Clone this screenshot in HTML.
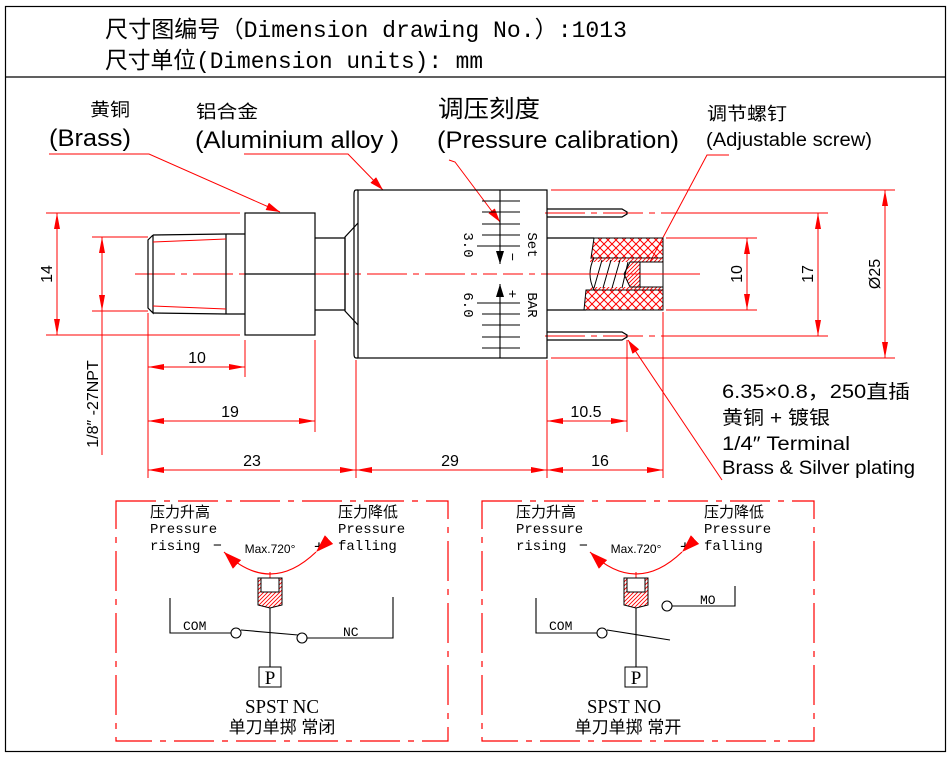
<!DOCTYPE html>
<html><head><meta charset="utf-8"><style>
html,body{margin:0;padding:0;background:#fff;}
svg{display:block;}
.cn{font-family:"Liberation Sans","Noto Sans CJK SC",sans-serif;}
.mono{font-family:"Liberation Mono","Noto Sans CJK SC",monospace;}
.serif{font-family:"Liberation Serif","Noto Serif CJK SC",serif;}
</style></head><body>
<svg width="952" height="758" viewBox="0 0 952 758" xmlns="http://www.w3.org/2000/svg">
<defs>
<pattern id="xh" width="8" height="8" patternUnits="userSpaceOnUse">
<path d="M0 0L8 8M8 0L0 8" stroke="#f00" stroke-width="1"/>
</pattern>
<pattern id="dh" width="4" height="4" patternUnits="userSpaceOnUse">
<path d="M0 4L4 0M-1 1L1 -1M3 5L5 3" stroke="#f00" stroke-width="0.9"/>
</pattern>
<marker id="ar" markerWidth="14" markerHeight="8" refX="14" refY="4" orient="auto" markerUnits="userSpaceOnUse">
<path d="M0 0L14 4L0 8Z" fill="#f00"/>
</marker>
<marker id="ar2" markerWidth="18" markerHeight="12" refX="18" refY="6" orient="auto" markerUnits="userSpaceOnUse">
<path d="M0 0L18 6L0 12Z" fill="#f00"/>
</marker>
<marker id="dm" markerWidth="16" markerHeight="6" refX="16" refY="3" orient="auto-start-reverse" markerUnits="userSpaceOnUse">
<path d="M0 0L16 3L0 6Z" fill="#f00"/>
</marker>
</defs>

<rect x="5.5" y="6.5" width="940" height="745" fill="none" stroke="#000" stroke-width="1.2"/>
<line x1="5" y1="77" x2="946" y2="77" stroke="#000" stroke-width="1.2"/>
<text x="105" y="37" class="mono" font-size="23" textLength="522" lengthAdjust="spacingAndGlyphs">尺寸图编号（Dimension drawing No.）:1013</text>
<text x="105" y="68" class="mono" font-size="23" textLength="378" lengthAdjust="spacingAndGlyphs">尺寸单位(Dimension units): mm</text>

<g class="cn">
<text x="90" y="116" font-size="18" textLength="40" lengthAdjust="spacingAndGlyphs">黄铜</text>
<text x="49" y="146" font-size="24" textLength="82" lengthAdjust="spacingAndGlyphs">(Brass)</text>
<text x="196" y="118" font-size="18" textLength="62" lengthAdjust="spacingAndGlyphs">铝合金</text>
<text x="195" y="148" font-size="24" textLength="204" lengthAdjust="spacingAndGlyphs">(Aluminium alloy )</text>
<text x="438" y="117" font-size="24" textLength="102" lengthAdjust="spacingAndGlyphs">调压刻度</text>
<text x="437" y="148" font-size="24" textLength="242" lengthAdjust="spacingAndGlyphs">(Pressure calibration)</text>
<text x="707" y="120" font-size="18" textLength="80" lengthAdjust="spacingAndGlyphs">调节螺钉</text>
<text x="706" y="146" font-size="19" textLength="166" lengthAdjust="spacingAndGlyphs">(Adjustable screw)</text>
<text x="722" y="398" font-size="19" textLength="188" lengthAdjust="spacingAndGlyphs">6.35×0.8，250直插</text>
<text x="722" y="424" font-size="19" textLength="108" lengthAdjust="spacingAndGlyphs">黄铜 + 镀银</text>
<text x="722" y="450" font-size="19" textLength="128" lengthAdjust="spacingAndGlyphs">1/4″ Terminal</text>
<text x="722" y="474" font-size="19" textLength="193" lengthAdjust="spacingAndGlyphs">Brass &amp; Silver plating</text>
</g>

<g stroke="#f00" stroke-width="1" fill="none">
<polyline points="49,154 149,154 280,212" marker-end="url(#ar)"/>
<polyline points="244,154 348,154 383,190" marker-end="url(#ar)"/>
<polyline points="449,160 455,162 500,222" marker-end="url(#ar)"/>
<polyline points="729,155 707,155 643,275" marker-end="url(#ar)"/>
<line x1="722" y1="480" x2="628" y2="340" marker-end="url(#ar)"/>
</g>

<line x1="135" y1="274" x2="700" y2="274" stroke="#f00" stroke-width="1" stroke-dasharray="40 6 6 6"/>
<line x1="545" y1="213" x2="665" y2="213" stroke="#f00" stroke-width="1" stroke-dasharray="40 6 6 6"/>
<line x1="545" y1="336" x2="665" y2="336" stroke="#f00" stroke-width="1" stroke-dasharray="40 6 6 6"/>

<g stroke="#000" stroke-width="1.2" fill="none">
<polyline points="153,235 226,234 245,234"/>
<polyline points="153,313 226,314 245,314"/>
<polyline points="153,235 148,240 148,308 153,313 153,235"/>
<line x1="226" y1="234" x2="226" y2="314"/>
<rect x="245" y="213" width="70" height="122"/>
<line x1="245" y1="274" x2="315" y2="274"/>
<polyline points="315,238 345,238 345,310 315,310"/>
<polyline points="358,223 345,237 345,311 358,325"/>
<path d="M358 190 L356 190 Q354 190 354 194 L354 354 Q354 358 356 358 L358 358"/>
<rect x="358" y="190" width="189" height="168"/>
<polyline points="547,209 622,209 627,212 627,214 622,217 547,217"/>
<polyline points="547,332 622,332 627,335 627,337 622,340 547,340"/>
<line x1="547" y1="238" x2="594" y2="238"/>
<line x1="547" y1="310" x2="586" y2="310"/>
</g>
<g stroke="#f00" stroke-width="1">
<line x1="153" y1="242" x2="226" y2="239"/>
<line x1="153" y1="306" x2="226" y2="309"/>
</g>

<path d="M594 238 L663 238 L663 258 L591 258 Z" fill="url(#xh)" stroke="#000" stroke-width="1"/>
<path d="M586 290 L663 290 L663 310 L584 310 Z" fill="url(#xh)" stroke="#000" stroke-width="1"/>
<rect x="590" y="258" width="73" height="4" fill="url(#dh)"/>
<rect x="590" y="287" width="73" height="3" fill="url(#dh)"/>
<path d="M630 262 L640 262 L640 287 L630 287 L624 274 Z" fill="url(#dh)" stroke="#000" stroke-width="1"/>
<rect x="640" y="262" width="23" height="25" fill="#fff" stroke="#000" stroke-width="1"/>
<g stroke="#000" stroke-width="1" fill="none">
<path d="M594 258 Q586 274 594 290"/>
<path d="M594 288 L602 260 M603 288 L611 260 M612 288 L620 260 M622 288 L628 262"/>
<line x1="663" y1="238" x2="663" y2="310"/>
</g>
<line x1="580" y1="274" x2="700" y2="274" stroke="#f00" stroke-width="1" stroke-dasharray="40 6 6 6"/>

<g stroke="#000" stroke-width="1.1">
<line x1="500" y1="190" x2="500" y2="358"/>
<line x1="482" y1="201" x2="520" y2="201"/>
<line x1="482" y1="212" x2="520" y2="212"/>
<line x1="482" y1="224" x2="520" y2="224"/>
<line x1="482" y1="235" x2="520" y2="235"/>
<line x1="477" y1="246" x2="520" y2="246"/>
<line x1="477" y1="303" x2="520" y2="303"/>
<line x1="482" y1="314" x2="520" y2="314"/>
<line x1="482" y1="325" x2="520" y2="325"/>
<line x1="482" y1="337" x2="520" y2="337"/>
<line x1="482" y1="348" x2="520" y2="348"/>
</g>
<rect x="497" y="264" width="6" height="20" fill="#fff"/>
<path d="M496 251 L504 251 L500 264 Z M496 297 L504 297 L500 284 Z"/>
<g class="mono" font-size="14">
<text transform="translate(464,245) rotate(90)" text-anchor="middle">3.0</text>
<text transform="translate(464,305) rotate(90)" text-anchor="middle">6.0</text>
<text transform="translate(528,245) rotate(90)" text-anchor="middle">Set</text>
<text transform="translate(528,305) rotate(90)" text-anchor="middle">BAR</text>
<text transform="translate(508,257) rotate(90)" text-anchor="middle">−</text>
<text transform="translate(508,294) rotate(90)" text-anchor="middle">+</text>
</g>

<g stroke="#f00" stroke-width="1" fill="none">
<line x1="46" y1="213" x2="240" y2="213"/>
<line x1="46" y1="335" x2="240" y2="335"/>
<line x1="57" y1="213" x2="57" y2="335" marker-start="url(#dm)" marker-end="url(#dm)"/>
<line x1="92" y1="237" x2="148" y2="237"/>
<line x1="92" y1="311" x2="148" y2="311"/>
<line x1="102" y1="237" x2="102" y2="311" marker-start="url(#dm)" marker-end="url(#dm)"/>
<line x1="102" y1="311" x2="102" y2="455"/>
<line x1="148" y1="313" x2="148" y2="478"/>
<line x1="245" y1="340" x2="245" y2="377"/>
<line x1="315" y1="340" x2="315" y2="432"/>
<line x1="356" y1="360" x2="356" y2="478"/>
<line x1="547" y1="360" x2="547" y2="478"/>
<line x1="627" y1="340" x2="627" y2="432"/>
<line x1="663" y1="312" x2="663" y2="478"/>
<line x1="148" y1="367" x2="245" y2="367" marker-start="url(#dm)" marker-end="url(#dm)"/>
<line x1="148" y1="421" x2="315" y2="421" marker-start="url(#dm)" marker-end="url(#dm)"/>
<line x1="148" y1="470" x2="356" y2="470" marker-start="url(#dm)" marker-end="url(#dm)"/>
<line x1="356" y1="470" x2="547" y2="470" marker-start="url(#dm)" marker-end="url(#dm)"/>
<line x1="547" y1="470" x2="663" y2="470" marker-start="url(#dm)" marker-end="url(#dm)"/>
<line x1="547" y1="421" x2="627" y2="421" marker-start="url(#dm)" marker-end="url(#dm)"/>
<line x1="666" y1="238" x2="757" y2="238"/>
<line x1="666" y1="310" x2="757" y2="310"/>
<line x1="747" y1="238" x2="747" y2="310" marker-start="url(#dm)" marker-end="url(#dm)"/>
<line x1="665" y1="213" x2="828" y2="213"/>
<line x1="665" y1="336" x2="828" y2="336"/>
<line x1="818" y1="213" x2="818" y2="336" marker-start="url(#dm)" marker-end="url(#dm)"/>
<line x1="551" y1="190" x2="895" y2="190"/>
<line x1="551" y1="358" x2="895" y2="358"/>
<line x1="885" y1="190" x2="885" y2="358" marker-start="url(#dm)" marker-end="url(#dm)"/>
</g>
<g class="cn" font-size="16" text-anchor="middle">
<text transform="translate(52,274) rotate(-90)">14</text>
<text transform="translate(98,404) rotate(-90)">1/8″ -27NPT</text>
<text x="197" y="363">10</text>
<text x="230" y="417">19</text>
<text x="252" y="466">23</text>
<text x="450" y="466">29</text>
<text x="600" y="466">16</text>
<text x="586" y="417">10.5</text>
<text transform="translate(742,274) rotate(-90)">10</text>
<text transform="translate(813,274) rotate(-90)">17</text>
<text transform="translate(880,274) rotate(-90)">Ø25</text>
</g>

<g fill="none" stroke="#f00" stroke-width="1.2" stroke-dasharray="40 8 6 8">
<rect x="116" y="501" width="332" height="240"/>
<rect x="482" y="501" width="332" height="240"/>
</g>

<g id="common">
<g class="mono" font-size="14">
<text x="150" y="517" class="cn" font-size="15">压力升高</text>
<text x="150" y="533">Pressure</text>
<text x="150" y="550">rising</text>
<text x="338" y="517" class="cn" font-size="15">压力降低</text>
<text x="338" y="533">Pressure</text>
<text x="338" y="550">falling</text>
</g>
<text x="213" y="550" class="cn" font-size="15">−</text>
<text x="314" y="552" class="cn" font-size="17">+</text>
<text x="270" y="553" class="cn" font-size="12" text-anchor="middle">Max.720°</text>
<path d="M316 552 Q270 596 224 552" fill="none" stroke="#f00" stroke-width="1.2" marker-start="url(#ar2)" marker-end="url(#ar2)"/>
<line x1="270" y1="572" x2="270" y2="578" stroke="#f00" stroke-width="1"/>
<path d="M258 578 L282 578 L282 605 L270 608 L258 605 Z" fill="url(#dh)" stroke="#000" stroke-width="1"/>
<rect x="261" y="578" width="18" height="14" fill="#fff" stroke="#000" stroke-width="1"/>
<line x1="270" y1="608" x2="270" y2="667" stroke="#000" stroke-width="1.1"/>
<rect x="259" y="667" width="22" height="20" fill="#fff" stroke="#000" stroke-width="1"/>
<text x="270" y="684" class="serif" font-size="19" text-anchor="middle">P</text>
<polyline points="170,598 170,633 231,633" fill="none" stroke="#000" stroke-width="1.1"/>
<circle cx="236" cy="633" r="5" fill="#fff" stroke="#000" stroke-width="1.1"/>
<text x="183" y="630" class="mono" font-size="13">COM</text>
</g>
<line x1="241" y1="630" x2="298" y2="635" stroke="#000" stroke-width="1.1"/>
<circle cx="302" cy="638" r="5" fill="#fff" stroke="#000" stroke-width="1.1"/>
<polyline points="307,638 393,638 393,597" fill="none" stroke="#000" stroke-width="1.1"/>
<text x="343" y="636" class="mono" font-size="13">NC</text>
<text x="282" y="713" class="serif" font-size="20" text-anchor="middle" textLength="74" lengthAdjust="spacingAndGlyphs">SPST NC</text>
<text x="282" y="733" class="cn" font-size="17" text-anchor="middle">单刀单掷 常闭</text>

<use href="#common" transform="translate(366,0)"/>
<line x1="607" y1="630" x2="670" y2="640" stroke="#000" stroke-width="1.1"/>
<circle cx="667" cy="606" r="5" fill="#fff" stroke="#000" stroke-width="1.1"/>
<polyline points="672,606 735,606 735,586" fill="none" stroke="#000" stroke-width="1.1"/>
<text x="700" y="604" class="mono" font-size="13">MO</text>
<text x="624" y="713" class="serif" font-size="20" text-anchor="middle" textLength="74" lengthAdjust="spacingAndGlyphs">SPST NO</text>
<text x="628" y="733" class="cn" font-size="17" text-anchor="middle">单刀单掷 常开</text>
</svg>
</body></html>
